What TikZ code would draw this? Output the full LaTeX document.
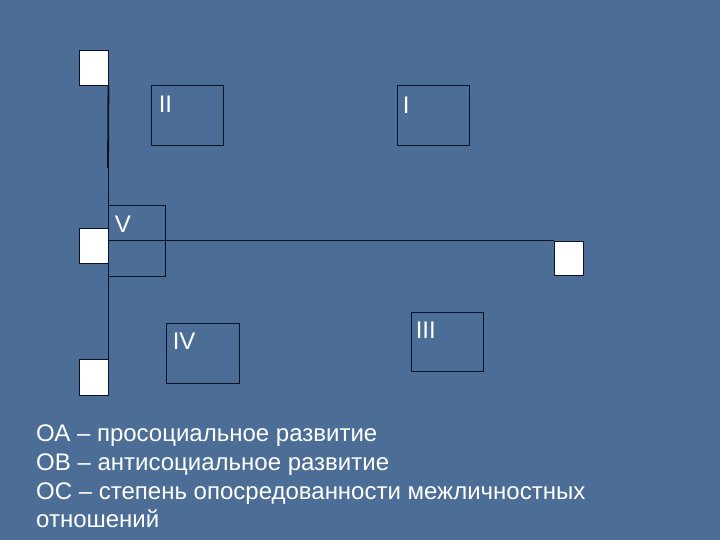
\documentclass[tikz,border=0pt]{standalone}
\usepackage{fontspec}
\setmainfont{Liberation Sans}
\usetikzlibrary{positioning}
\definecolor{slide}{RGB}{76,110,150}
\definecolor{edge}{RGB}{10,18,40}

\begin{document}
\begin{tikzpicture}[x=1pt,y=-1pt,
	sq/.style={draw=edge, fill=white, line width=0.9pt, inner sep=0pt, minimum width=29pt},
	zone/.style={draw=edge, line width=0.9pt, inner sep=0pt},
	lab/.style={text=white, font=\fontsize{24}{24}\selectfont, inner sep=0pt},
	txt/.style={text=white, font=\fontsize{24}{24}\selectfont, inner sep=0pt, anchor=base west}]
						\fill[slide] (0,0) rectangle (720,540);
						\useasboundingbox (0,0) rectangle (720,540);
						
						% white squares
						\node[sq, minimum height=35pt] (sqtop) at (93.5,67.5) {};
						\node[sq, minimum height=35pt] (sqmid) at (93.5,245.5) {};
						\node[sq, minimum height=36pt] (sqbot) at (93.5,377) {};
						\node[sq, minimum height=34pt] (sqright) at (568.5,258) {};
						
						% zones
						\node[zone, minimum width=72pt, minimum height=60pt] (zII) at (187,115) {};
						\node[zone, minimum width=72pt, minimum height=60pt] (zI) at (433,115) {};
						\node[zone, minimum width=57pt, minimum height=71pt] (zV) at (136.5,240.5) {};
						\node[zone, minimum width=73pt, minimum height=60pt] (zIV) at (202.5,353) {};
						\node[zone, minimum width=72pt, minimum height=59pt] (zIII) at (447,341.5) {};
						
						\node[lab, below right=11pt and 8pt of zII.north west] (lII) {II};
						\node[lab, below right=12pt and 6pt of zI.north west] (lI) {I};
						\node[lab, below right=11pt and 7pt of zV.north west] (lV) {V};
						\node[lab, below right=10pt and 7pt of zIV.north west] (lIV) {IV};
						\node[lab, below right=10pt and 5pt of zIII.north west] (lIII) {III};
						
						% axes
						\coordinate (kink) at (108,168);
						\draw[edge, line width=0.9pt] (sqtop.south east) -- (sqbot.north east);
						\draw[edge, line width=1.8pt] (sqtop.south east) -- (kink);
						\draw[edge, line width=0.9pt] (zV.west) -- (zV.west -| sqright.west);
						
						\node[txt] (la) at (36,441) {ОА – просоциальное развитие};
						\node[txt] (lb) at (36,470) {ОВ – антисоциальное развитие};
						\node[txt] (lc) at (36,499) {ОС – степень опосредованности межличностных};
						\node[txt] (ld) at (36,527) {отношений};
						
						%\node at (360,20) {};
\end{tikzpicture}
\end{document}
